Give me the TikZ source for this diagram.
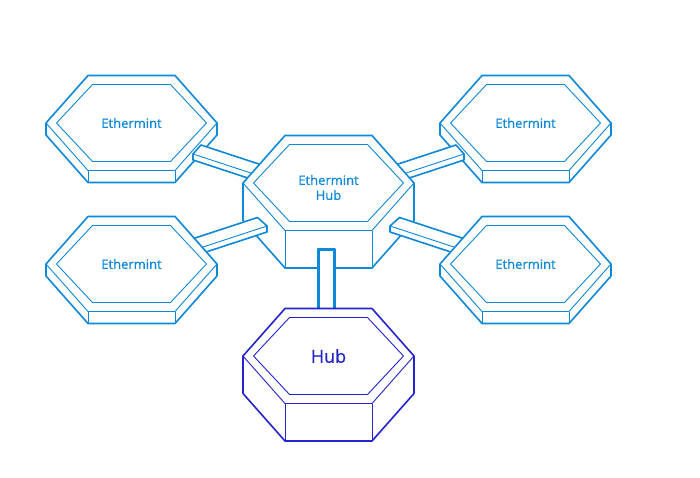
\documentclass[tikz,border=0pt]{standalone}
\usepackage{fontspec}
\setmainfont{Open Sans}
\newfontfamily\medfont{Open Sans}[FakeBold=0.7]
\usetikzlibrary{calc}
\definecolor{ethblue}{RGB}{14,136,216}
\definecolor{hubblue}{RGB}{36,36,204}
\tikzset{
  thickline/.style={line width=1.6pt, line join=round},
  thinline/.style={line width=0.9pt, line join=round},
  lbl/.style={font=\medfont\fontsize{13}{15}\selectfont, align=center, inner sep=0pt},
  biglbl/.style={font=\medfont\fontsize{18}{20}\selectfont, align=center, inner sep=0pt}
}
% hexagonal prism: #1 centre, #2 depth, #3 colour
\newcommand{\hexprism}[3]{%
\begin{scope}[shift={#1}]
  \filldraw[fill=white, draw=#3, thickline] (-85.5,0) -- (-43.5,-47.5) -- (43.5,-47.5) -- (85.5,0) -- (85.5,#2) -- (43.5,47.5+#2) -- (-43.5,47.5+#2) -- (-85.5,#2) -- cycle;
  \draw[#3, thinline] (-85.5,0) -- (-43.5,47.5) -- (43.5,47.5) -- (85.5,0);
  \draw[#3, thinline] (-43.5,47.5) -- (-43.5,47.5+#2);
  \draw[#3, thinline] (43.5,47.5) -- (43.5,47.5+#2);
  \draw[#3, thinline] (-75,0) -- (-39,-38.5) -- (39,-38.5) -- (75,0) -- (39,38.5) -- (-39,38.5) -- cycle;
\end{scope}}
% connecting bar: #1 front end corner, #2 length vector, #3 width vector, #4 colour
\newcommand{\linkbar}[4]{%
  \coordinate (bP) at #1;
  \coordinate (bA) at ($(bP)+#3$);
  \coordinate (bB) at ($(bA)+#2$);
  \coordinate (bD) at ($(bP)+#2$);
  \coordinate (bE) at ($(bP)+(0,6)$);
  \coordinate (bF) at ($(bD)+(0,6)$);
  \fill[white] (bA) -- (bB) -- (bD) -- (bF) -- (bE) -- (bP) -- cycle;
  \draw[thickline, #4] (bB) -- (bA) -- (bP) -- (bE) -- (bF);
  \draw[thinline, #4] (bP) -- (bD);
}
\begin{document}
\begin{tikzpicture}[x=1pt, y=-1pt]
\useasboundingbox[fill=white] (0,0) rectangle (700,478);
% top Ethermint nodes
\hexprism{(131.5,123)}{12}{ethblue}
\hexprism{(525.5,123)}{12}{ethblue}
% upper bars
\linkbar{(193,154)}{(70,23)}{(8,-9)}{ethblue}
\linkbar{(464,154)}{(-70,23)}{(-8,-9)}{ethblue}
% Ethermint Hub
\hexprism{(328.5,183)}{37.5}{ethblue}
% lower bars
\linkbar{(267,226)}{(-70,23)}{(-9.5,-8.5)}{ethblue}
\linkbar{(390,226)}{(70,23)}{(9.5,-8.5)}{ethblue}
% lower Ethermint nodes
\hexprism{(131.5,264)}{12}{ethblue}
\hexprism{(525.5,264)}{12}{ethblue}
% vertical bar
\filldraw[fill=white, draw=ethblue, thickline] (318,249) rectangle (335,312);
\draw[ethblue, thinline] (319.8,312) -- (319.8,250.8) -- (333.2,250.8) -- (333.2,312);
% Hub
\hexprism{(328.5,356)}{37.5}{hubblue}
% labels
\node[lbl, text=ethblue] (e1) at (131.5,123) {Ethermint};
\node[lbl, text=ethblue] (e2) at (525.5,123) {Ethermint};
\node[lbl, text=ethblue] (e3) at (131.5,264) {Ethermint};
\node[lbl, text=ethblue] (e4) at (525.5,264) {Ethermint};
\node[lbl, text=ethblue] (eh) at (328.5,187.5) {Ethermint\\Hub};
\node[biglbl, text=hubblue] (hub) at (328.5,356) {Hub};
\end{tikzpicture}
\end{document}
